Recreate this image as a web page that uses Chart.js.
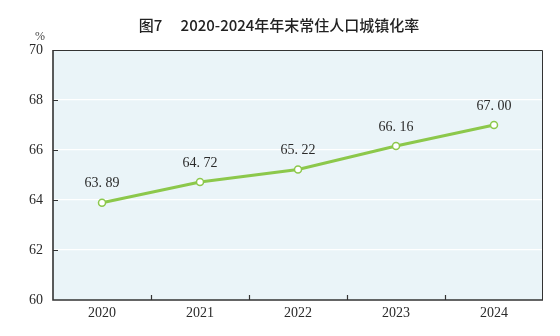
<!DOCTYPE html>
<html>
<head>
<meta charset="utf-8">
<script src="https://cdn.jsdelivr.net/npm/chart.js@4/dist/chart.umd.min.js"></script>
<style>
  html, body { margin: 0; padding: 0; background: #fff; }
  #wrap { width: 560px; height: 336px; }
</style>
</head>
<body>
<div id="wrap"><canvas id="myChart" width="560" height="336"></canvas></div>
<script>
var years = ['2020', '2021', '2022', '2023', '2024'];
var rates = [63.89, 64.72, 65.22, 66.16, 67.00];
var yTicks = [60, 62, 64, 66, 68, 70];

var titleText = '图7\u3000\u00a02020-2024年年末常住人口城镇化率';
var serif = '"Liberation Serif", "DejaVu Serif", serif';

// background, frame, inner tick marks, title and value labels
var decor = {
    id: 'decor',
    beforeDraw: function (chart) {
        var c = chart.ctx, a = chart.chartArea;
        c.save();
        c.fillStyle = '#eaf4f8';
        c.fillRect(a.left, a.top, a.right - a.left, a.bottom - a.top);
        c.restore();
    },
    afterDatasetsDraw: function (chart) {
        var c = chart.ctx, a = chart.chartArea;
        var xs = chart.scales.x, ys = chart.scales.y;
        c.save();
        // top and right frame
        c.strokeStyle = '#333';
        c.lineWidth = 1;
        c.beginPath();
        c.moveTo(a.left, a.top + 0.5);
        c.lineTo(a.right - 0.5, a.top + 0.5);
        c.lineTo(a.right - 0.5, a.bottom);
        c.stroke();
        // left and bottom axes
        c.lineWidth = 1.6;
        c.beginPath();
        c.moveTo(a.left, a.top);
        c.lineTo(a.left, a.bottom);
        c.lineTo(a.right, a.bottom);
        c.stroke();
        // tick marks pointing into the plot
        c.lineWidth = 1.2;
        c.beginPath();
        yTicks.slice(1, -1).forEach(function (v) {
            var y = Math.round(ys.getPixelForValue(v)) + 0.5;
            c.moveTo(a.left, y);
            c.lineTo(a.left + 5, y);
        });
        for (var i = 1; i < years.length; i++) {
            var x = Math.round((xs.getPixelForValue(i - 1) + xs.getPixelForValue(i)) / 2) + 0.5;
            c.moveTo(x, a.bottom);
            c.lineTo(x, a.bottom - 5);
        }
        c.stroke();

        // value labels
        var meta = chart.getDatasetMeta(0);
        c.fillStyle = '#2a2a2a';
        c.font = '14px ' + serif;
        c.textAlign = 'center';
        c.textBaseline = 'middle';
        meta.data.forEach(function (pt, i) {
            c.fillText(rates[i].toFixed(2).replace('.', '. '), pt.x, pt.y - 19);
        });

        // title and unit
        c.font = '500 15px "Noto Sans CJK SC", sans-serif';
        c.fillStyle = '#222';
        c.fillText(titleText, 279, 25);
        c.font = '12px ' + serif;
        c.fillStyle = '#444';
        c.fillText('%', 40, 37);
        c.restore();
    }
};

var ctx = document.getElementById('myChart').getContext('2d');
var myChart = new Chart(ctx, {
    type: 'line',
    data: {
        labels: years,
        datasets: [{
            data: rates,
            borderColor: '#8cc84b',
            borderWidth: 3,
            pointRadius: 3.5,
            pointBorderWidth: 1.5,
            pointBackgroundColor: '#ffffff',
            pointBorderColor: '#8cc84b',
            tension: 0
        }]
    },
    options: {
        responsive: false,
        animation: false,
        layout: { padding: { left: 0, right: 17, top: 50, bottom: 0 } },
        plugins: {
            legend: { display: false },
            tooltip: { enabled: false }
        },
        scales: {
            x: {
                offset: true,
                grid: { display: false, drawTicks: false },
                border: { display: false },
                ticks: { color: '#2a2a2a', font: { family: serif, size: 14 }, padding: 5 },
                afterFit: function (s) { s.height = 36; }
            },
            y: {
                min: 60,
                max: 70,
                afterBuildTicks: function (s) {
                    s.ticks = yTicks.map(function (v) { return { value: v }; });
                },
                grid: {
                    drawTicks: false,
                    lineWidth: 1.2,
                    color: function (c) {
                        var v = c.tick && c.tick.value;
                        return (v === 60 || v === 70) ? 'rgba(0,0,0,0)' : '#ffffff';
                    }
                },
                border: { display: false },
                ticks: { color: '#2a2a2a', font: { family: serif, size: 14 }, padding: 10 },
                afterFit: function (s) { s.width = 53; }
            }
        }
    },
    plugins: [decor]
});
</script>
</body>
</html>
